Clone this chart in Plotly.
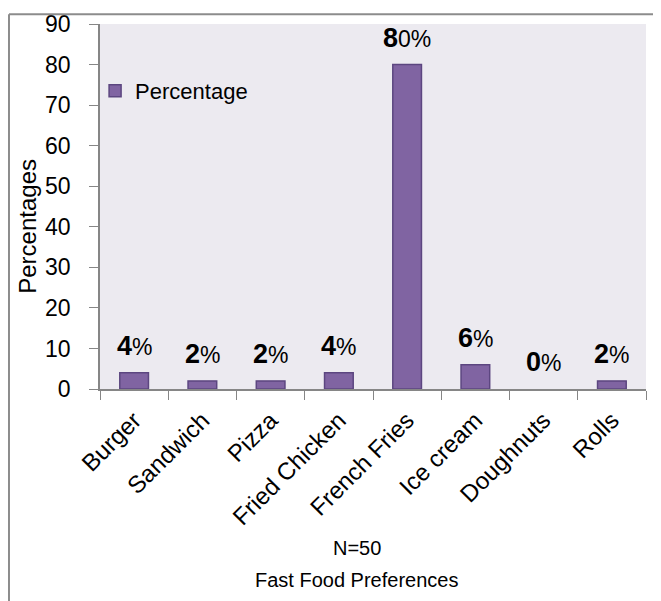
import plotly.graph_objects as go

categories = ["Burger", "Sandwich", "Pizza", "Fried Chicken", "French Fries", "Ice cream", "Doughnuts", "Rolls"]
values = [4, 2, 2, 4, 80, 6, 0, 2]
yticks = [0, 10, 20, 30, 40, 50, 60, 70, 80, 90]
x_title_lines = ["N=50", "Fast Food Preferences"]
y_title = "Percentages"

FONT = "Liberation Sans, Arial"

fig = go.Figure()
fig.add_trace(go.Bar(
    x=categories, y=values, name="Percentage",
    marker=dict(color="#8064A2",
                line=dict(color="#5C4680", width=[1.5 if v > 0 else 0 for v in values])),
    width=0.42,
))

for c, v in zip(categories, values):
    s = f"{v}"
    txt = f"<span style='font-size:27px'><b>{s[0]}</b></span>{s[1:]}%"
    fig.add_annotation(x=c, y=v, text=txt, showarrow=False, yshift=27,
                       font=dict(family=FONT, size=23, color="#000"))

# x-axis title lines
for i, t in enumerate(x_title_lines):
    fig.add_annotation(xref="paper", yref="paper", x=0.47, y=-0.4356 - i * 0.0877, text=t,
                       xanchor="center", yanchor="middle",
                       showarrow=False, font=dict(family=FONT, size=20, color="#000"))

# y-axis title
fig.add_annotation(xref="paper", yref="paper", x=-0.132, y=0.447, text=y_title, textangle=-90,
                   xanchor="center", yanchor="middle", showarrow=False,
                   font=dict(family=FONT, size=24, color="#000"))

# chart frame (left and top edges visible)
fig.add_shape(type="line", xref="paper", yref="paper", x0=-0.1667, x1=1.1, y0=1.027, y1=1.027,
              line=dict(color="#8C8C8C", width=2), layer="above")
fig.add_shape(type="line", xref="paper", yref="paper", x0=-0.1667, x1=-0.1667, y0=-0.7, y1=1.027,
              line=dict(color="#8C8C8C", width=2), layer="above")

fig.update_layout(
    width=661, height=601,
    margin=dict(l=92, r=23, t=16, b=220),
    paper_bgcolor="white", plot_bgcolor="#ECEAF0",
    showlegend=True,
    legend=dict(x=-0.009, y=0.874, xanchor="left", yanchor="top", bgcolor="rgba(0,0,0,0)",
                font=dict(family=FONT, size=22, color="#000")),
    font=dict(family=FONT, color="#000"),
    xaxis=dict(
        automargin=False,
        showline=True, linecolor="#868686", linewidth=1.5,
        ticks="outside", tickson="boundaries", ticklen=9, tickcolor="#868686",
        ticklabelstandoff=6,
        tickangle=-45, tickfont=dict(family=FONT, size=24, color="#000"),
    ),
    yaxis=dict(
        automargin=False,
        range=[0, 90], tickvals=yticks, showgrid=False, zeroline=False,
        showline=True, linecolor="#868686", linewidth=1.5,
        ticks="outside", ticklen=9, tickcolor="#868686",
        ticklabelstandoff=14,
        tickfont=dict(family=FONT, size=23, color="#000"),
    ),
)

fig.write_html("out.html")
